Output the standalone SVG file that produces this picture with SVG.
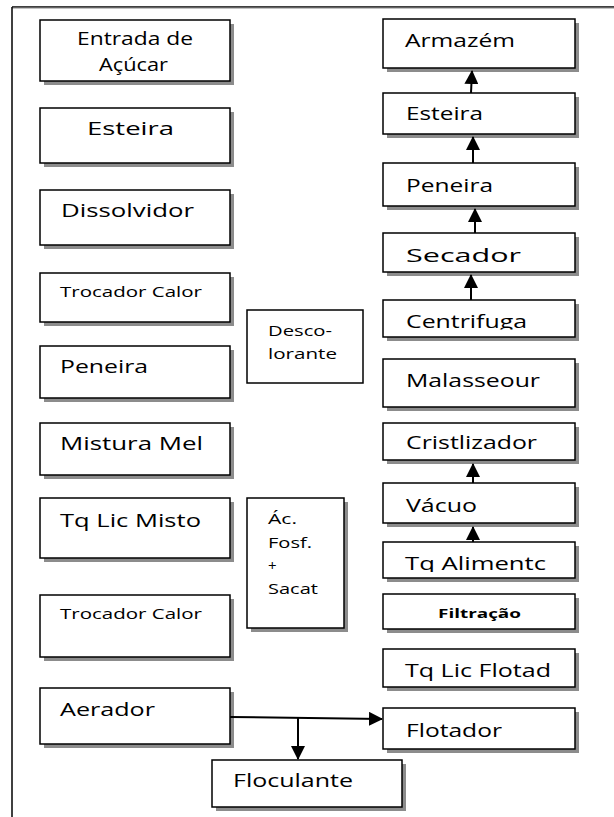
<svg xmlns="http://www.w3.org/2000/svg" width="614" height="817" viewBox="0 0 614 817">
<style>
.sh{fill:#8c8c8c}
.bx{fill:#fff;stroke:#000;stroke-width:1.5}
.t{font-family:"Open Sans","DejaVu Sans",sans-serif;font-size:18px;fill:#000}
.s{font-size:15px}
.b{font-weight:bold;font-size:12px}
.ln{stroke:#000;stroke-width:2;fill:none}
</style>
<defs>
<marker id="ah" markerUnits="userSpaceOnUse" markerWidth="14" markerHeight="14" viewBox="0 0 14 14" refX="13" refY="7" orient="auto">
<path d="M0,0 L14,7 L0,14 Z" fill="#000"/>
</marker>
<clipPath id="cCen"><rect x="383" y="300" width="192" height="29.5"/></clipPath>
<clipPath id="cTq"><rect x="383" y="542" width="192" height="30"/></clipPath>
</defs>
<rect width="614" height="817" fill="#fff"/>
<g id="frame">
<line x1="12" y1="7" x2="614" y2="7" stroke="#000" stroke-width="1.5"/>
<line x1="12" y1="8" x2="614" y2="8" stroke="#888" stroke-width="1"/>
<line x1="12" y1="7" x2="12" y2="817" stroke="#000" stroke-width="1.5"/>
</g>
<g id="n_entrada"><rect class="sh" x="44" y="24" width="190" height="61"/><rect class="bx" x="40" y="20" width="190" height="61"/><text class="t" x="77" y="45" textLength="116" lengthAdjust="spacingAndGlyphs">Entrada de</text><text class="t" x="99" y="71" textLength="69" lengthAdjust="spacingAndGlyphs">Açúcar</text></g>
<g id="n_esteira1"><rect class="sh" x="44" y="112" width="190" height="55"/><rect class="bx" x="40" y="108" width="190" height="55"/><text class="t" x="87" y="135" textLength="87" lengthAdjust="spacingAndGlyphs">Esteira</text></g>
<g id="n_dissolvidor"><rect class="sh" x="44" y="194" width="190" height="55"/><rect class="bx" x="40" y="190" width="190" height="55"/><text class="t" x="61" y="217" textLength="133" lengthAdjust="spacingAndGlyphs">Dissolvidor</text></g>
<g id="n_trocador1"><rect class="sh" x="44" y="277" width="190" height="49"/><rect class="bx" x="40" y="273" width="190" height="49"/><text class="t s" x="60" y="297" textLength="142" lengthAdjust="spacingAndGlyphs">Trocador Calor</text></g>
<g id="n_peneira1"><rect class="sh" x="44" y="350" width="190" height="52"/><rect class="bx" x="40" y="346" width="190" height="52"/><text class="t" x="60" y="373" textLength="88" lengthAdjust="spacingAndGlyphs">Peneira</text></g>
<g id="n_mistura"><rect class="sh" x="44" y="427" width="190" height="52"/><rect class="bx" x="40" y="423" width="190" height="52"/><text class="t" x="60" y="450" textLength="143" lengthAdjust="spacingAndGlyphs">Mistura Mel</text></g>
<g id="n_tqmisto"><rect class="sh" x="44" y="502" width="190" height="60"/><rect class="bx" x="40" y="498" width="190" height="60"/><text class="t" x="60" y="527" textLength="141" lengthAdjust="spacingAndGlyphs">Tq Lic Misto</text></g>
<g id="n_trocador2"><rect class="sh" x="44" y="599" width="190" height="62"/><rect class="bx" x="40" y="595" width="190" height="62"/><text class="t s" x="60" y="619" textLength="142" lengthAdjust="spacingAndGlyphs">Trocador Calor</text></g>
<g id="n_aerador"><rect class="sh" x="44" y="692" width="190" height="56"/><rect class="bx" x="40" y="688" width="190" height="56"/><text class="t" x="60" y="716" textLength="95" lengthAdjust="spacingAndGlyphs">Aerador</text></g>
<g id="n_floculante"><rect class="sh" x="216" y="764" width="190" height="47"/><rect class="bx" x="212" y="760" width="190" height="47"/><text class="t" x="233" y="787" textLength="120" lengthAdjust="spacingAndGlyphs">Floculante</text></g>
<g id="n_descolorante"><rect class="bx" x="247" y="310" width="116" height="73"/><text class="t s" x="268" y="336" textLength="64" lengthAdjust="spacingAndGlyphs">Desco-</text><text class="t s" x="268" y="359" textLength="69" lengthAdjust="spacingAndGlyphs">lorante</text></g>
<g id="n_acfosf"><rect class="sh" x="251" y="502" width="97" height="130"/><rect class="bx" x="247" y="498" width="97" height="130"/><text class="t s" x="268" y="524" textLength="29" lengthAdjust="spacingAndGlyphs">Ác.</text><text class="t s" x="268" y="548" textLength="44" lengthAdjust="spacingAndGlyphs">Fosf.</text><text class="t s" x="268" y="571">+</text><text class="t s" x="268" y="594" textLength="50" lengthAdjust="spacingAndGlyphs">Sacat</text></g>
<g id="n_armazem"><rect class="sh" x="387" y="23" width="192" height="49"/><rect class="bx" x="383" y="19" width="192" height="49"/><text class="t" x="405" y="47" textLength="110" lengthAdjust="spacingAndGlyphs">Armazém</text></g>
<g id="n_esteira2"><rect class="sh" x="387" y="97" width="192" height="41"/><rect class="bx" x="383" y="93" width="192" height="41"/><text class="t" x="406" y="120" textLength="77" lengthAdjust="spacingAndGlyphs">Esteira</text></g>
<g id="n_peneira2"><rect class="sh" x="387" y="167" width="192" height="43"/><rect class="bx" x="383" y="163" width="192" height="43"/><text class="t" x="406" y="192" textLength="87" lengthAdjust="spacingAndGlyphs">Peneira</text></g>
<g id="n_secador"><rect class="sh" x="387" y="237" width="192" height="39"/><rect class="bx" x="383" y="233" width="192" height="39"/><text class="t" x="406" y="262" textLength="115" lengthAdjust="spacingAndGlyphs">Secador</text></g>
<g id="n_centrifuga"><rect class="sh" x="387" y="304" width="192" height="37"/><rect class="bx" x="383" y="300" width="192" height="37"/><text class="t" x="406" y="328" textLength="121" lengthAdjust="spacingAndGlyphs" clip-path="url(#cCen)">Centrifuga</text></g>
<g id="n_malasseour"><rect class="sh" x="387" y="363" width="192" height="48"/><rect class="bx" x="383" y="359" width="192" height="48"/><text class="t" x="406" y="387" textLength="134" lengthAdjust="spacingAndGlyphs">Malasseour</text></g>
<g id="n_cristlizador"><rect class="sh" x="387" y="427" width="192" height="37"/><rect class="bx" x="383" y="423" width="192" height="37"/><text class="t" x="406" y="449" textLength="131" lengthAdjust="spacingAndGlyphs">Cristlizador</text></g>
<g id="n_vacuo"><rect class="sh" x="387" y="487" width="192" height="40"/><rect class="bx" x="383" y="483" width="192" height="40"/><text class="t" x="406" y="512" textLength="71" lengthAdjust="spacingAndGlyphs">Vácuo</text></g>
<g id="n_tqalim"><rect class="sh" x="387" y="546" width="192" height="36"/><rect class="bx" x="383" y="542" width="192" height="36"/><text class="t" x="405" y="570" textLength="141" lengthAdjust="spacingAndGlyphs" clip-path="url(#cTq)">Tq Alimentc</text></g>
<g id="n_filtracao"><rect class="sh" x="387" y="598" width="192" height="35"/><rect class="bx" x="383" y="594" width="192" height="35"/><text class="t b" x="438" y="618" textLength="83" lengthAdjust="spacingAndGlyphs">Filtração</text></g>
<g id="n_tqflotad"><rect class="sh" x="387" y="653" width="192" height="38"/><rect class="bx" x="383" y="649" width="192" height="38"/><text class="t" x="405" y="677" textLength="146" lengthAdjust="spacingAndGlyphs">Tq Lic Flotad</text></g>
<g id="n_flotador"><rect class="sh" x="387" y="712" width="192" height="41"/><rect class="bx" x="383" y="708" width="192" height="41"/><text class="t" x="406" y="737" textLength="96" lengthAdjust="spacingAndGlyphs">Flotador</text></g>
<g id="connectors">
<line class="ln" x1="471" y1="93" x2="472" y2="71" marker-end="url(#ah)"/>
<line class="ln" x1="473" y1="163" x2="473" y2="137" marker-end="url(#ah)"/>
<line class="ln" x1="475" y1="233" x2="475" y2="209" marker-end="url(#ah)"/>
<line class="ln" x1="471" y1="300" x2="471" y2="275" marker-end="url(#ah)"/>
<line class="ln" x1="473" y1="483" x2="473" y2="464" marker-end="url(#ah)"/>
<line class="ln" x1="473" y1="542" x2="473" y2="527" marker-end="url(#ah)"/>
<line class="ln" x1="230" y1="717" x2="382" y2="719" marker-end="url(#ah)"/>
<line class="ln" x1="298" y1="718" x2="298" y2="759" marker-end="url(#ah)"/>
</g>
</svg>
